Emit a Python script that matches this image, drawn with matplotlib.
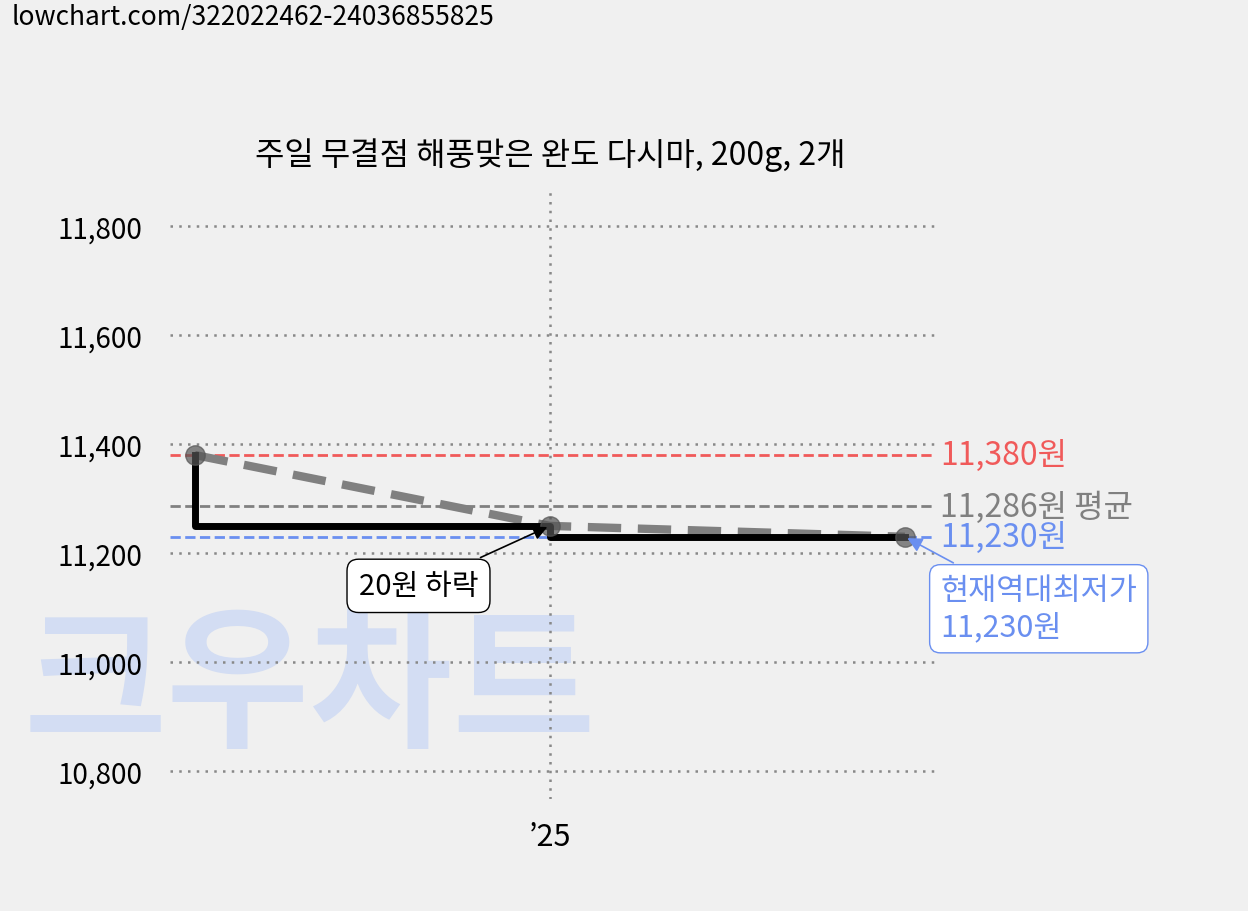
import matplotlib
matplotlib.use("Agg")
import matplotlib.pyplot as plt

plt.rcParams['font.family'] = ['Noto Sans CJK KR', 'DejaVu Sans']

x = [0, 1, 2]
prices = [11380, 11250, 11230]
yticks = [10800, 11000, 11200, 11400, 11600, 11800]
ytick_labels = ["10,800", "11,000", "11,200", "11,400", "11,600", "11,800"]
max_p, avg_p, min_p = 11380, 11286, 11230
title = "주일 무결점 해풍맞은 완도 다시마, 200g, 2개"

W, H = 1248, 912
fig = plt.figure(figsize=(W/100, H/100), dpi=100)
fig.patch.set_facecolor('#f0f0f0')
ax = fig.add_axes([170/W, 1-800/H, (935-170)/W, (800-190)/H])
ax.set_facecolor('none')
ax.set_xlim(-0.07, 2.085)
ax.set_ylim(10749, 11868)
for s in ax.spines.values():
    s.set_visible(False)

ax.set_yticks(yticks)
ax.set_yticklabels(ytick_labels, fontsize=20)
ax.set_xticks([1])
ax.set_xticklabels(["’25"], fontsize=22)
ax.tick_params(length=0, pad=20)
ax.tick_params(axis='x', pad=16)
for yv in yticks:
    ax.axhline(yv, color='#888888', ls=(0, (1, 2.5)), lw=1.8, zorder=1)
ax.axvline(1, color='#888888', ls=(0, (1, 2.5)), lw=1.8, zorder=1)

fig.text(12/W, 1-17/H, "lowchart.com/322022462-24036855825", fontsize=19, va='center')
fig.text(550/W, 1-155/H, title, fontsize=23, ha='center', va='center')

fig.text(310/W, 1-690/H, "크우차트", fontsize=112, weight='black', color='#d3ddf3',
         va='center', ha='center', zorder=-1)

ax.axhline(max_p, color='#f05a5a', ls='--', lw=2, zorder=2)
ax.axhline(avg_p, color='#808080', ls='--', lw=2, zorder=2)
ax.axhline(min_p, color='#6a8ff0', ls='--', lw=2, zorder=2)
ax.text(2.1, max_p, "11,380원", color='#f05a5a', fontsize=23, va='center', clip_on=False)
ax.text(2.1, avg_p, "11,286원 평균", color='#808080', fontsize=23, va='center', clip_on=False)
ax.text(2.1, min_p, "11,230원", color='#6a8ff0', fontsize=23, va='center', clip_on=False)

ax.plot(x, prices, color='#808080', ls=(0, (4, 2)), lw=6, zorder=3)
ax.step(x, prices, where='pre', color='black', lw=5, zorder=4)
ax.plot(x, prices, 'o', color='#555555', alpha=0.7, ms=14, zorder=5)

ax.annotate("20원 하락", xy=(1, 11250), xytext=(0.63, 11140), fontsize=21, ha='center', va='center',
            bbox=dict(boxstyle='round,pad=0.4', fc='white', ec='black'),
            arrowprops=dict(arrowstyle='-|>', color='black', lw=1.2), zorder=6)
ax.annotate("현재역대최저가\n11,230원", xy=(2, 11230), xytext=(2.1, 11098), fontsize=22,
            ha='left', va='center', color='#6a8ff0', linespacing=1.2,
            bbox=dict(boxstyle='round,pad=0.35', fc='white', ec='#6a8ff0'),
            arrowprops=dict(arrowstyle='-|>', color='#6a8ff0', lw=1.2), zorder=6, annotation_clip=False)

fig.savefig("out.png", dpi=100, facecolor=fig.get_facecolor())
